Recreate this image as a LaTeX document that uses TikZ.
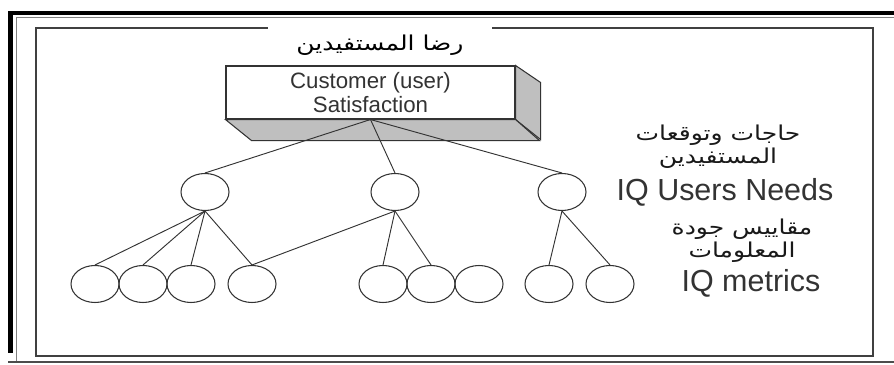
\documentclass[tikz,border=0pt]{standalone}
\usepackage{fontspec}
\setmainfont{Liberation Sans}
\newfontfamily\arabicfont[Script=Arabic,FakeStretch=1.22]{DejaVu Sans}
\TeXXeTstate=1
\usetikzlibrary{shapes.geometric}

\begin{document}
\begin{tikzpicture}[x=0.03cm,y=-0.03cm,node distance=1.44cm,
    need/.style={ellipse,draw=black!80,line width=0.9pt,minimum width=1.44cm,minimum height=1.11cm,inner sep=0pt},
    link/.style={draw=black!80,line width=0.8pt},
    arlabel/.style={font=\arabicfont\fontsize{17.5}{19.5}\selectfont,align=center,text=black!90},
    iqlabel/.style={font=\fontsize{26}{30}\selectfont,text=black!80}]
            % \tikzstyle{every node}=[text=black]
            \useasboundingbox (0,0) rectangle (894,365);

            % frame
            \fill[black] (8,11) rectangle (13,353);
            \fill[black] (8,11) rectangle (894,15);
            \draw[gray,line width=0.8pt] (16,17) -- (16,362);
            \draw[gray,line width=0.8pt] (16,17) -- (894,17);
            \draw[black!70,line width=1pt] (8,362) -- (894,362);
            \draw[black!75,line width=1.2pt] (36,28) rectangle (873,356);

            \node[fill=white,minimum width=6.72cm,minimum height=1.2cm,
                  font=\arabicfont\fontsize{17.5}{19}\selectfont] (title) at (380,45) {\beginR رضا المستفيدين\endR};

            % 3d box
            \node[draw=black!80,line width=0.9pt,fill=white,minimum width=8.67cm,minimum height=1.59cm,
                  align=center,font=\fontsize{19}{20}\selectfont,text=black!80] (sat) at (370.5,92.5)
                  {Customer (user)\\Satisfaction};
            \filldraw[fill=black!25,draw=black!80,line width=0.9pt] (sat.north east) -- ++(25,17) -- ++(0,57) -- (sat.south east) -- cycle;
            \filldraw[fill=black!25,draw=black!80,line width=0.9pt] (sat.south west) -- ++(26,21) -- ++(288,0) -- (sat.south east) -- cycle;

            % needs
            \node[need] (N1) at (205,192) {};
            \node[need] (N2) at (395,192) {};
            \node[need] (N3) at (562,192) {};

            % metrics
            \node[need] (M1) at (95,284) {};
            \node[need] (M2) [right of=M1] {};
            \node[need] (M3) [right of=M2] {};
            \node[need] (M4) at (252,284) {};
            \node[need] (M5) at (383,284) {};
            \node[need] (M6) [right of=M5] {};
            \node[need] (M7) [right of=M6] {};
            \node[need] (M8) at (549,284) {};
            \node[need] (M9) at (610,284) {};

            \path[link] (sat.south) edge (N1.north)
            (sat.south) edge (N2.north)
            (sat.south) edge (N3.north);
            \path[link] (N1.south) edge (M1.north)
            (N1.south) edge (M2.north)
            (N1.south) edge (M3.north)
            (N1.south) edge (M4.north)
            (N2.south) edge (M4.north)
            (N2.south) edge (M5.north)
            (N2.south) edge (M6.north)
            (N3.south) edge (M8.north)
            (N3.south) edge (M9.north);

            % labels
            \node[arlabel] (needsAr) at (718,147) {\beginR حاجات وتوقعات\endR\\\beginR المستفيدين\endR};
            \node[iqlabel] (needs) at (725,192) {IQ Users Needs};
            \node[arlabel] (metricsAr) at (742,241) {\beginR مقاييس جودة\endR\\\beginR المعلومات\endR};
            \node[iqlabel] (metrics) at (751,283) {IQ metrics};
        \end{tikzpicture}
\end{document}
